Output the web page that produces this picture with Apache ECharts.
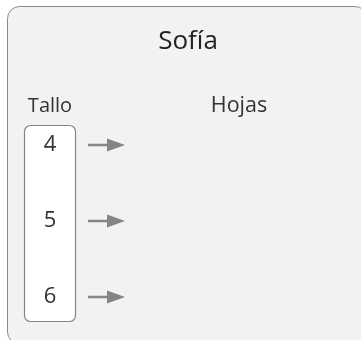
<!DOCTYPE html>
<html>
<head>
<meta charset="utf-8">
<script src="https://cdn.jsdelivr.net/npm/echarts@6/dist/echarts.min.js"></script>
<style>html,body{margin:0;padding:0;background:#fff}#c{width:361px;height:340px}</style>
</head>
<body>
<div id="c"></div>
<script>
const title = 'Sofía';
const stemHeader = 'Tallo';
const leafHeader = 'Hojas';
const stems = ['4', '5', '6'];
const leaves = [[], [], []];

const FONT = '"Open Sans", "Noto Sans", sans-serif';
const chart = echarts.init(document.getElementById('c'), null, {renderer: 'canvas'});

chart.setOption({
  animation: false,
  backgroundColor: '#ffffff',
  graphic: [
    {type: 'rect', z: 0, shape: {x: 7.5, y: 6.5, width: 359.5, height: 337.5, r: 12},
     style: {fill: '#f1f2f4', stroke: '#8a8a8a', lineWidth: 1}},
    {type: 'rect', z: 1, shape: {x: 24.5, y: 125.5, width: 51, height: 196, r: 6},
     style: {fill: '#ffffff', stroke: '#858585', lineWidth: 1.2}},
    {type: 'text', z: 3, x: 188, y: 42,
     style: {text: title, fill: '#222', font: '26px ' + FONT, align: 'center', verticalAlign: 'middle'}},
    {type: 'text', z: 3, x: 50, y: 106,
     style: {text: stemHeader, fill: '#333', font: '20px ' + FONT, align: 'center', verticalAlign: 'middle'}},
    {type: 'text', z: 3, x: 239, y: 106,
     style: {text: leafHeader, fill: '#333', font: '21.5px ' + FONT, align: 'center', verticalAlign: 'middle'}}
  ],
  grid: {left: 0, right: 0, top: 107, bottom: 5},
  xAxis: {type: 'value', min: 0, max: 361, show: false},
  yAxis: {type: 'category', data: stems, inverse: true, show: false},
  series: [
    {
      type: 'custom',
      z: 5,
      data: stems.map((s, i) => [i, s, leaves[i].join(' ')]),
      renderItem: function (params, api) {
        const idx = api.value(0);
        const yc = api.coord([0, idx])[1];
        return {
          type: 'group',
          children: [
            {type: 'text', x: 50, y: yc, style: {text: stems[idx], fill: '#333', font: '22px ' + FONT, align: 'center', verticalAlign: 'middle'}},
            {type: 'path', shape: {pathData: 'M88,' + (yc - 1.2) + ' L107,' + (yc - 1.2) + ' L107,' + (yc - 6.5) + ' L125,' + yc + ' L107,' + (yc + 6.5) + ' L107,' + (yc + 1.2) + ' L88,' + (yc + 1.2) + ' Z'},
             style: {fill: '#858585'}},
            {type: 'text', x: 140, y: yc, style: {text: leaves[idx].join('   '), fill: '#333', font: '22px ' + FONT, align: 'left', verticalAlign: 'middle'}}
          ]
        };
      }
    }
  ]
});
</script>
</body>
</html>
